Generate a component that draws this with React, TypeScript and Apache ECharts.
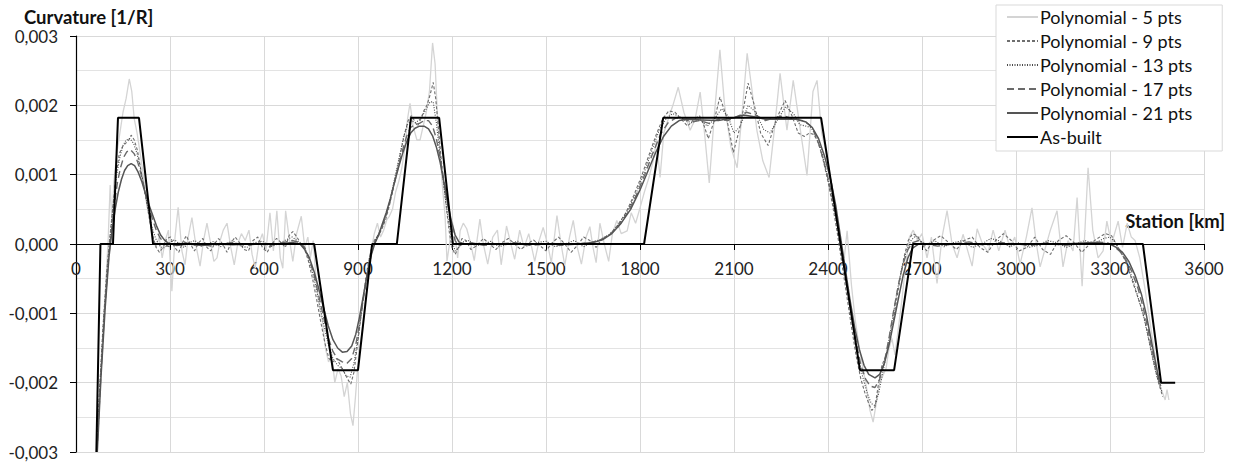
import React, { useEffect, useRef } from "react";
import * as echarts from "echarts";

// Station [m on axis], curvature in units of 1e-3 1/R
const X_TICKS = [0, 300, 600, 900, 1200, 1500, 1800, 2100, 2400, 2700, 3000, 3300, 3600];

const poly5: number[][] = [
  [66,-3.0],[75,-2.2],[85,-1.4],[95,-0.6],[103,0.1],[109,0.85],[115,0.3],[121,0.9],[130,1.3],[140,1.6],[150,1.9],[160,2.1],[170,2.38],[178,2.2],[186,1.8],[195,1.6],[205,1.3],[215,1.0],[225,0.6],[235,0.35],[245,0.1],[255,-0.05],[265,0.1],[275,-0.2],[285,0.05],[295,0.2],
  [306,-0.68],[316,0.1],[326,0.53],[338,-0.1],[348,-0.3],[358,0.1],[370,0.38],[382,0.0],[396,-0.32],[407,0.05],[418,0.3],[430,0.0],[440,-0.25],[450,-0.2],[460,0.05],[470,0.2],[482,0.3],[494,-0.05],[505,-0.3],[516,0.0],[528,0.15],[540,0.05],[552,0.2],[562,-0.15],[572,-0.35],[583,0.0],[595,0.15],[606,-0.1],[619,0.45],[630,-0.1],[641,0.48],[652,-0.2],[660,-0.35],[669,0.48],[680,0.1],[692,-0.25],[704,0.15],[719,0.4],[730,-0.05],[740,0.1],
  [748,-0.2],[757,0.05],[766,-0.5],[776,-0.9],[786,-1.1],[796,-1.5],[806,-1.7],[816,-1.6],[826,-2.0],[836,-1.8],[846,-1.9],[856,-2.2],[866,-2.0],[876,-2.45],[884,-2.62],[892,-2.2],[902,-1.6],[912,-1.3],[922,-0.9],[932,-0.5],[942,-0.1],[952,0.15],[962,0.3],[972,0.1],[982,0.2],[992,0.35],
  [1000,0.4],[1010,0.5],[1020,0.75],[1030,0.9],[1040,1.1],[1050,1.4],[1058,1.8],[1066,2.03],[1076,1.7],[1088,1.5],[1098,1.5],[1108,1.7],[1118,1.9],[1128,2.2],[1138,2.9],[1146,2.6],[1154,1.8],[1162,1.3],[1170,0.8],[1178,0.4],[1184,-0.25],[1192,0.0],[1200,0.35],[1210,0.1],[1218,-0.2],[1226,0.19],[1236,0.3],
  [1247,0.22],[1260,0.0],[1271,-0.24],[1289,0.36],[1300,0.0],[1314,-0.29],[1330,0.1],[1345,0.2],[1357,-0.3],[1374,0.26],[1388,0.0],[1400,-0.22],[1416,0.2],[1430,-0.05],[1445,0.15],[1464,-0.25],[1478,0.05],[1491,0.24],[1505,0.0],[1517,-0.27],[1535,0.41],[1548,0.0],[1560,-0.31],[1575,0.1],[1587,0.34],[1600,-0.05],[1613,-0.29],[1628,0.1],[1640,0.25],[1650,-0.05],[1660,-0.27],[1672,0.3],[1686,0.0],[1700,-0.25],[1712,0.15],[1726,0.34],[1740,0.15],
  [1759,0.19],[1772,0.45],[1786,0.3],[1800,0.52],[1814,0.75],[1828,0.95],[1842,1.2],[1853,1.5],[1864,0.96],[1876,1.6],[1890,1.8],[1905,2.0],[1922,2.26],[1940,1.9],[1960,1.64],[1976,1.8],[1992,2.19],[2006,1.6],[2021,0.88],[2038,1.9],[2055,2.8],[2070,2.0],[2090,1.4],[2110,1.1],[2126,1.9],[2142,2.75],[2158,2.2],[2173,1.64],[2192,1.2],[2212,0.96],[2230,1.7],[2247,2.46],[2269,1.64],[2289,2.36],[2310,1.7],[2333,0.99],[2352,2.2],[2365,2.36],
  [2380,1.6],[2395,1.3],[2410,0.9],[2425,0.45],[2440,0.0],[2452,-0.2],[2461,0.19],[2475,-0.6],[2487,-1.1],[2500,-1.5],[2512,-1.8],[2524,-2.1],[2534,-2.4],[2544,-2.57],[2554,-2.3],[2565,-2.0],[2575,-1.9],[2585,-1.8],[2595,-1.5],[2604,-1.36],[2614,-1.6],[2625,-1.2],[2636,-0.8],[2648,-0.3],[2660,0.1],[2672,0.2],[2686,0.05],[2700,0.15],[2716,-0.2],
  [2730,0.1],[2748,-0.57],[2764,0.1],[2780,0.48],[2796,0.0],[2812,-0.2],[2831,0.14],[2846,-0.1],[2860,-0.32],[2876,0.22],[2893,0.0],[2911,-0.12],[2927,0.2],[2945,-0.1],[2965,0.2],[2980,-0.05],[2996,0.1],[3013,-0.29],[3033,0.1],[3051,0.52],[3065,0.0],[3077,-0.33],[3094,-0.05],[3109,0.19],[3131,0.48],[3150,-0.33],[3166,0.05],[3182,-0.1],[3195,0.67],[3211,-0.61],[3230,1.1],[3245,0.2],[3262,-0.2],[3278,-0.1],[3290,0.33],[3305,0.0],[3326,0.33],[3340,-0.05],[3355,0.3],[3368,0.1],
  [3380,0.05],[3395,-0.2],[3410,-0.6],[3420,-0.9],[3430,-1.2],[3440,-1.5],[3450,-1.8],[3460,-2.05],[3468,-2.15],[3476,-2.25],[3482,-2.1],[3488,-2.25]
];

const poly9: number[][] = [
  [66,-3.0],[74,-2.2],[86,-1.2],[98,-0.4],[108,0.1],[118,0.55],[128,1.0],[138,1.3],[148,1.4],[158,1.45],[168,1.5],[176,1.57],[186,1.5],[196,1.35],[206,1.1],[216,0.85],[226,0.58],[236,0.32],[246,0.1],[256,-0.05],[266,-0.12],[278,-0.05],[290,0.08],[302,0.1],[315,-0.05],[328,-0.12],[340,0.02],[352,0.12],[365,0.0],[378,-0.1],[392,0.02],[405,0.08],[418,-0.05],[430,-0.1],[442,0.0],[455,0.08],[468,0.0],[482,-0.12],[495,0.02],[508,0.1],[522,0.02],[536,-0.08],[550,-0.1],[565,0.05],[580,0.1],[595,-0.05],[610,-0.12],[625,0.0],[640,0.08],[655,0.02],[668,-0.05],[680,0.12],[692,0.18],[705,0.1],[718,0.0],
  [730,-0.08],[742,-0.25],[755,-0.5],[768,-0.8],[781,-1.12],[794,-1.42],[807,-1.65],[820,-1.7],[832,-1.65],[844,-1.75],[856,-1.85],[867,-1.95],[877,-2.02],[887,-1.85],[897,-1.5],[908,-1.1],[919,-0.7],[930,-0.35],[941,-0.1],[952,0.05],[963,0.12],[975,0.2],[988,0.35],
  [1000,0.55],[1012,0.8],[1024,1.05],[1036,1.32],[1048,1.58],[1060,1.78],[1070,1.85],[1080,1.78],[1090,1.7],[1100,1.8],[1110,1.92],[1120,2.0],[1130,2.15],[1140,2.33],[1148,2.1],[1156,1.7],[1165,1.25],[1174,0.85],[1183,0.48],[1192,0.15],[1200,-0.05],[1210,-0.15],[1220,-0.05],[1232,0.08],[1245,0.05],
  [1260,-0.08],[1280,-0.02],[1300,0.08],[1320,0.0],[1340,-0.08],[1360,0.02],[1380,0.08],[1400,0.0],[1420,-0.08],[1440,0.0],[1460,0.06],[1480,-0.02],[1500,-0.1],[1520,0.02],[1540,0.1],[1560,0.0],[1580,-0.12],[1600,-0.02],[1620,0.1],[1640,0.05],[1660,-0.05],
  [1680,0.08],[1705,0.14],[1730,0.28],[1755,0.45],[1780,0.7],[1805,0.98],[1830,1.3],[1852,1.58],[1872,1.8],[1892,1.92],[1912,1.9],[1932,1.8],[1952,1.7],[1972,1.8],[1990,1.85],
  [2005,1.7],[2018,1.52],[2035,1.75],[2055,2.12],[2075,1.85],[2098,1.32],[2120,1.7],[2145,2.32],[2165,2.0],[2185,1.6],[2209,1.42],[2235,1.8],[2263,2.07],[2285,1.85],[2305,1.6],[2325,1.55],[2340,1.6],
  [2355,1.58],[2370,1.45],[2385,1.2],[2400,0.9],[2415,0.55],[2430,0.15],[2445,-0.3],[2460,-0.75],[2475,-1.2],[2490,-1.62],[2505,-1.95],[2518,-2.15],[2530,-2.3],[2540,-2.4],[2550,-2.35],[2560,-2.05],[2572,-1.75],[2586,-1.6],[2600,-1.35],[2614,-0.95],[2628,-0.55],[2642,-0.2],[2656,0.05],[2670,0.15],[2685,0.12],[2700,0.0],[2715,-0.1],
  [2735,0.05],[2760,0.12],[2785,0.02],[2810,-0.08],[2835,0.05],[2860,0.1],[2885,-0.05],[2910,-0.12],[2935,0.05],[2960,0.15],[2985,0.05],[3010,-0.1],[3035,-0.05],[3060,0.1],[3085,-0.08],[3110,-0.15],[3135,0.05],[3160,0.12],[3185,0.02],[3210,-0.12],[3235,0.0],[3260,0.08],[3285,0.15],[3305,0.12],
  [3320,0.0],[3335,-0.12],[3350,-0.25],[3365,-0.45],[3380,-0.65],[3395,-0.85],[3410,-1.08],[3425,-1.4],[3440,-1.72],[3455,-2.0],[3468,-2.2]
];

const poly13: number[][] = [
  [66,-3.0],[76,-2.1],[88,-1.1],[100,-0.35],[110,0.15],[120,0.6],[130,1.0],[140,1.25],[150,1.42],[160,1.5],[172,1.52],[184,1.45],[195,1.3],[206,1.08],[218,0.8],[230,0.5],[242,0.25],[254,0.08],[266,-0.02],[278,-0.06],[290,-0.03],[302,0.03],[315,0.06],[330,0.0],[345,-0.05],[360,0.02],[380,0.05],[400,-0.03],[420,0.0],[440,0.04],[460,-0.04],[480,0.0],[500,0.05],[520,-0.02],[545,-0.05],[570,0.02],[595,0.04],[620,-0.04],[645,0.0],[670,0.06],[690,0.1],[705,0.05],[718,0.0],
  [730,-0.05],[745,-0.25],[760,-0.5],[775,-0.82],[790,-1.15],[805,-1.45],[820,-1.65],[835,-1.75],[850,-1.8],[862,-1.9],[875,-1.92],[888,-1.7],[900,-1.35],[912,-0.95],[924,-0.55],[936,-0.22],[948,0.0],[960,0.1],[972,0.2],[985,0.35],
  [998,0.55],[1010,0.8],[1022,1.05],[1034,1.3],[1046,1.55],[1058,1.72],[1070,1.78],[1082,1.75],[1094,1.78],[1106,1.85],[1118,1.95],[1130,2.05],[1140,2.05],[1150,1.75],[1160,1.35],[1170,0.98],[1180,0.62],[1190,0.3],[1200,0.05],[1210,-0.1],[1222,-0.05],[1235,0.03],
  [1255,0.05],[1275,-0.03],[1300,0.0],[1325,0.04],[1350,-0.04],[1380,0.0],[1410,0.04],[1440,-0.03],[1470,0.02],[1500,0.04],[1530,-0.04],[1560,0.0],[1590,0.05],[1620,-0.04],[1645,0.02],
  [1670,0.06],[1700,0.13],[1730,0.27],[1760,0.48],[1790,0.76],[1815,1.05],[1840,1.38],[1862,1.65],[1885,1.82],[1905,1.88],[1925,1.84],[1945,1.78],[1965,1.75],
  [1990,1.8],[2015,1.7],[2040,1.82],[2060,1.95],[2080,1.85],[2100,1.6],[2120,1.7],[2145,2.0],[2170,1.9],[2195,1.65],[2215,1.6],[2240,1.8],[2265,1.98],[2290,1.88],[2310,1.72],[2330,1.7],[2345,1.68],
  [2360,1.58],[2375,1.42],[2390,1.15],[2405,0.85],[2420,0.5],[2435,0.12],[2450,-0.3],[2465,-0.75],[2480,-1.2],[2495,-1.6],[2510,-1.9],[2525,-2.15],[2538,-2.3],[2550,-2.33],[2562,-2.15],[2575,-1.85],[2590,-1.5],[2605,-1.1],[2620,-0.7],[2635,-0.35],[2650,-0.1],[2665,0.05],[2680,0.12],[2695,0.05],[2710,-0.02],
  [2740,0.05],[2770,-0.04],[2800,0.02],[2830,0.05],[2860,-0.05],[2890,0.0],[2920,0.08],[2950,0.04],[2980,-0.04],[3010,0.02],[3040,-0.05],[3070,-0.02],[3100,0.05],[3130,0.02],[3160,-0.05],[3190,0.0],[3220,0.05],[3250,0.0],[3280,0.08],[3300,0.1],
  [3315,0.03],[3330,-0.08],[3345,-0.2],[3360,-0.35],[3375,-0.55],[3390,-0.78],[3405,-1.0],[3420,-1.3],[3435,-1.62],[3450,-1.92],[3465,-2.12]
];

const poly17: number[][] = [
  [67,-3.0],[78,-2.0],[90,-1.05],[102,-0.3],[112,0.15],[122,0.55],[132,0.88],[142,1.1],[152,1.25],[162,1.33],[174,1.36],[186,1.3],[197,1.18],[208,1.0],[220,0.76],[232,0.55],[244,0.36],[256,0.2],[268,0.09],[280,0.02],[292,-0.03],[305,-0.04],[320,0.0],[345,0.03],[370,-0.02],[400,0.0],[430,-0.03],[460,0.0],[500,0.02],[540,-0.02],[580,0.0],[620,-0.02],[660,0.02],[690,0.05],[715,0.02],
  [730,-0.05],[745,-0.22],[760,-0.45],[775,-0.75],[790,-1.05],[805,-1.35],[820,-1.55],[835,-1.66],[850,-1.7],[865,-1.72],[880,-1.65],[893,-1.45],[905,-1.15],[917,-0.8],[929,-0.45],[941,-0.15],[953,0.02],[965,0.12],[977,0.25],
  [990,0.42],[1003,0.63],[1016,0.88],[1029,1.12],[1042,1.35],[1055,1.55],[1068,1.68],[1082,1.72],[1096,1.74],[1111,1.78],[1125,1.78],[1138,1.7],[1150,1.52],[1162,1.25],[1174,0.92],[1186,0.58],[1198,0.25],[1210,0.05],[1222,-0.03],[1235,0.0],
  [1260,0.02],[1300,-0.02],[1350,0.0],[1400,0.02],[1450,-0.02],[1500,0.0],[1550,-0.02],[1600,0.0],[1640,0.02],
  [1670,0.05],[1700,0.12],[1730,0.25],[1760,0.45],[1790,0.72],[1815,1.0],[1840,1.3],[1865,1.58],[1890,1.75],[1915,1.82],[1940,1.8],[1965,1.76],
  [1990,1.78],[2020,1.74],[2050,1.8],[2080,1.78],[2110,1.84],[2140,1.9],[2170,1.86],[2200,1.78],[2230,1.82],[2260,1.85],[2290,1.8],[2320,1.78],[2340,1.72],
  [2355,1.62],[2370,1.45],[2385,1.22],[2400,0.95],[2415,0.65],[2430,0.3],[2445,-0.1],[2460,-0.55],[2475,-1.0],[2490,-1.42],[2505,-1.75],[2520,-1.95],[2535,-2.05],[2550,-2.07],[2565,-1.95],[2580,-1.7],[2595,-1.35],[2610,-0.95],[2625,-0.58],[2640,-0.28],[2655,-0.08],[2670,0.02],[2690,0.05],[2710,0.0],
  [2750,-0.03],[2800,0.0],[2850,0.03],[2900,-0.02],[2950,0.02],[3000,0.0],[3050,-0.02],[3100,0.02],[3150,-0.02],[3200,0.0],[3250,0.03],[3290,0.02],
  [3310,-0.02],[3330,-0.1],[3350,-0.22],[3370,-0.4],[3390,-0.65],[3405,-0.9],[3420,-1.2],[3435,-1.55],[3450,-1.85],[3462,-2.05]
];

const poly21: number[][] = [
  [68,-3.0],[80,-1.9],[93,-0.93],[105,-0.2],[115,0.2],[125,0.5],[135,0.75],[145,0.93],[155,1.06],[165,1.13],[176,1.16],[187,1.13],[198,1.04],[210,0.9],[222,0.72],[234,0.55],[246,0.4],[258,0.25],[270,0.13],[282,0.06],[295,0.01],[320,-0.02],[360,0.0],[400,-0.02],[450,0.0],[500,-0.01],[550,0.0],[600,0.0],[650,0.0],[690,0.02],[715,0.0],
  [730,-0.08],[745,-0.2],[760,-0.4],[775,-0.65],[790,-0.92],[805,-1.18],[820,-1.38],[835,-1.5],[850,-1.56],[865,-1.55],[880,-1.47],[893,-1.3],[905,-1.05],[917,-0.75],[929,-0.45],[941,-0.18],[953,0.0],[965,0.12],[977,0.28],
  [990,0.45],[1003,0.65],[1016,0.88],[1029,1.1],[1042,1.3],[1055,1.47],[1068,1.6],[1082,1.67],[1096,1.7],[1111,1.7],[1125,1.66],[1138,1.56],[1150,1.4],[1162,1.18],[1174,0.9],[1186,0.6],[1198,0.33],[1210,0.13],[1222,0.03],[1240,0.0],
  [1300,0.0],[1400,0.0],[1500,0.0],[1600,0.0],[1650,0.02],
  [1680,0.06],[1710,0.15],[1740,0.3],[1770,0.5],[1800,0.78],[1825,1.05],[1850,1.32],[1875,1.55],[1900,1.7],[1925,1.78],[1950,1.8],
  [2000,1.79],[2050,1.78],[2100,1.82],[2130,1.86],[2160,1.84],[2200,1.8],[2250,1.8],[2300,1.8],[2330,1.76],
  [2350,1.68],[2370,1.52],[2390,1.25],[2410,0.9],[2425,0.55],[2440,0.1],[2455,-0.35],[2470,-0.8],[2485,-1.2],[2500,-1.52],[2515,-1.75],[2530,-1.88],[2550,-1.93],[2565,-1.88],[2580,-1.72],[2595,-1.45],[2610,-1.12],[2625,-0.78],[2640,-0.45],[2655,-0.2],[2670,-0.06],[2690,0.0],
  [2750,0.0],[2850,0.0],[2950,0.0],[3050,0.0],[3150,0.0],[3250,0.02],[3300,0.0],
  [3320,-0.05],[3340,-0.12],[3360,-0.25],[3380,-0.45],[3400,-0.72],[3415,-1.0],[3430,-1.35],[3445,-1.7],[3458,-2.0]
];

const asBuilt: number[][] = [
  [65,-3.0],[78,0],[118,0],[134,1.82],[201,1.82],[246,0],[760,0],[820,-1.82],[900,-1.82],[945,0],
  [1024,0],[1069,1.82],[1159,1.82],[1203,0],[1813,0],[1874,1.82],[2378,1.82],[2502,-1.82],[2611,-1.82],[2671,0],
  [3405,0],[3463,-2.0],[3508,-2.0]
];

const SERIES_NAMES = [
  "Polynomial - 5 pts",
  "Polynomial - 9 pts",
  "Polynomial - 13 pts",
  "Polynomial - 17 pts",
  "Polynomial - 21 pts",
  "As-built",
];

const FONT = "Lato, 'Open Sans', sans-serif";

export default function App() {
  const ref = useRef<HTMLDivElement>(null);
  useEffect(() => {
    document.body.style.margin = "0";
    if (!ref.current) return;
    const chart = echarts.init(ref.current, null, { renderer: "svg" });
    const fmt = (v: number) => (v / 1000).toFixed(3).replace(".", ",");
    const mk = (name: string, data: number[][], color: string, width: number, type: any, z: number) => ({
      name,
      type: "line",
      data,
      showSymbol: false,
      symbol: "none",
      z,
      lineStyle: { color, width, type },
      itemStyle: { color },
    });
    const GRID_TOP = 36;
    const GRID_BOTTOM = 14;
    const gridH = 466 - GRID_TOP - GRID_BOTTOM;
    chart.setOption({
      animation: false,
      textStyle: { fontFamily: FONT },
      grid: { left: 76, right: 33, top: GRID_TOP, bottom: GRID_BOTTOM, containLabel: false, outerBoundsMode: "none" },
      legend: {
        orient: "vertical",
        left: 996,
        top: 5,
        itemWidth: 31,
        itemHeight: 10,
        itemGap: 4,
        padding: [2, 30, 4, 10],
        backgroundColor: "#ffffff",
        borderColor: "#d9d9d9",
        borderWidth: 1,
        borderRadius: 0,
        itemStyle: { opacity: 0 },
        textStyle: { fontSize: 18, color: "#111", fontFamily: FONT, lineHeight: 20, padding: [0, 0, 0, -3] },
        data: SERIES_NAMES,
      },
      xAxis: {
        type: "value",
        min: 0,
        max: 3600,
        interval: 300,
        position: "bottom",
        offset: -gridH / 2,
        axisLine: { onZero: false, lineStyle: { color: "#000", width: 1.2 } },
        axisTick: { show: true, inside: false, length: 6, lineStyle: { color: "#000" } },
        axisLabel: { fontSize: 17, color: "#222", margin: 16, fontFamily: FONT, formatter: (v: number) => String(v) },
        splitLine: { show: true, lineStyle: { color: "#d9d9d9", width: 1 } },
      },
      yAxis: {
        type: "value",
        min: -3,
        max: 3,
        interval: 1,
        axisLine: { show: true, onZero: false, lineStyle: { color: "#000", width: 1.2 } },
        axisTick: { show: true, inside: false, length: 6, lineStyle: { color: "#000" } },
        axisLabel: { fontSize: 17, color: "#222", margin: 18, formatter: fmt, fontFamily: FONT },
        splitLine: { show: true, lineStyle: { color: "#d9d9d9", width: 1 } },
        minorTick: { show: false, splitNumber: 2 },
        minorSplitLine: { show: true, lineStyle: { color: "#e3e3e3", width: 1 } },
      },
      graphic: [
        {
          type: "text",
          left: 24,
          top: 7,
          style: { text: "Curvature [1/R]", font: `bold 18.5px ${FONT}`, fill: "#111" },
        },
        {
          type: "text",
          right: 12,
          top: 211,
          style: { text: "Station [km]", font: `bold 18.5px ${FONT}`, fill: "#111" },
        },
      ],
      series: [
        mk(SERIES_NAMES[0], poly5, "#d4d4d4", 1.3, "solid", 2),
        mk(SERIES_NAMES[1], poly9, "#6e6e6e", 1.1, [3, 2], 3),
        mk(SERIES_NAMES[2], poly13, "#4a4a4a", 1.1, [1, 1.5], 4),
        mk(SERIES_NAMES[3], poly17, "#6a6a6a", 1.4, [7, 4], 5),
        mk(SERIES_NAMES[4], poly21, "#555555", 1.5, "solid", 6),
        mk(SERIES_NAMES[5], asBuilt, "#000000", 2, "solid", 7),
      ],
    });
    return () => chart.dispose();
  }, []);
  return <div ref={ref} style={{ width: 1237, height: 466 }} />;
}
